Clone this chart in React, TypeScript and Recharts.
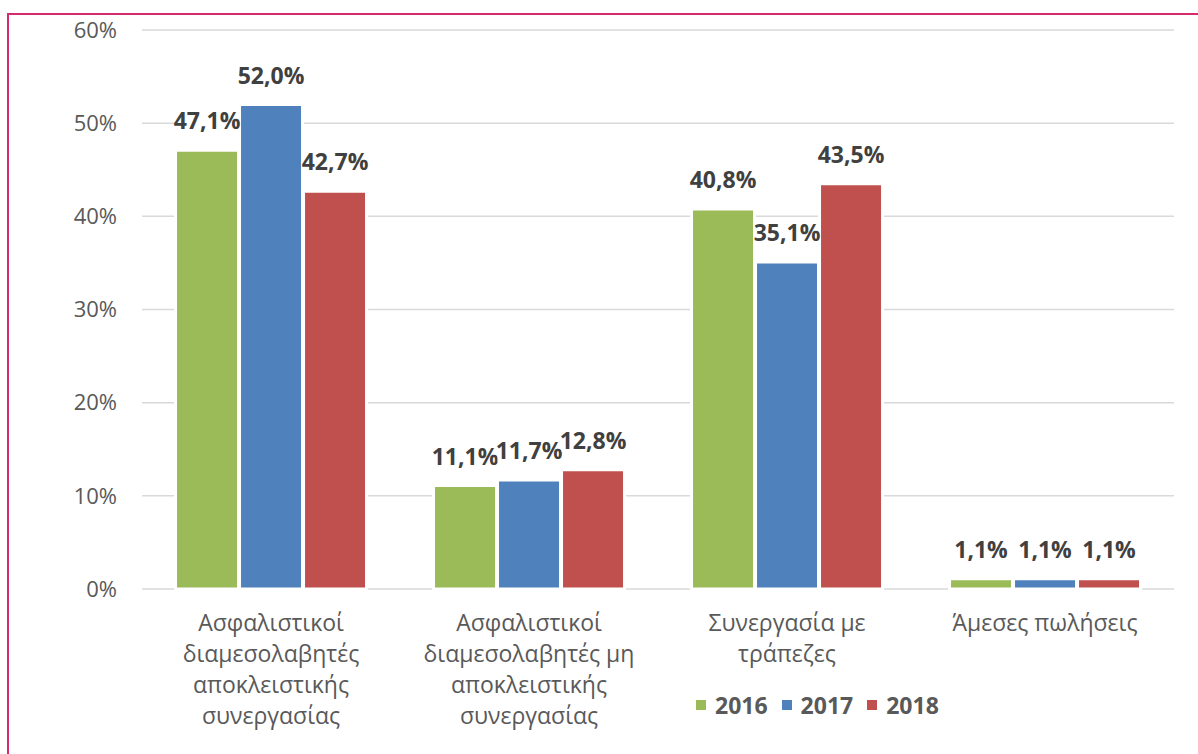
import React from 'react';
import { BarChart, Bar, XAxis, YAxis, CartesianGrid, LabelList, Legend } from 'recharts';

const categoryLines: string[][] = [
  ['Ασφαλιστικοί', 'διαμεσολαβητές', 'αποκλειστικής', 'συνεργασίας'],
  ['Ασφαλιστικοί', 'διαμεσολαβητές μη', 'αποκλειστικής', 'συνεργασίας'],
  ['Συνεργασία με', 'τράπεζες'],
  ['Άμεσες πωλήσεις'],
];
const categories = categoryLines.map((l) => l.join(' '));
const values2016 = [47.1, 11.1, 40.8, 1.1];
const values2017 = [52.0, 11.7, 35.1, 1.1];
const values2018 = [42.7, 12.8, 43.5, 1.1];
const yTicks = [0, 10, 20, 30, 40, 50, 60];
const seriesNames = ['2016', '2017', '2018'];
const seriesColors = ['#9bbb59', '#4f81bd', '#c0504d'];

const data = categories.map((c, i) => ({
  name: c,
  lines: categoryLines[i],
  y2016: values2016[i],
  y2017: values2017[i],
  y2018: values2018[i],
}));

const FONT = "'Open Sans', 'Noto Sans', sans-serif";
const fmt = (v: number) => v.toFixed(1).replace('.', ',') + '%';

const ValueLabel = (props: any) => {
  const { x, y, width, value } = props;
  if (value == null) return null;
  const cx = Number(x) + Number(width) / 2;
  const base = Number(y) - 21;
  const txt = fmt(Number(value));
  const w = txt.length * 12.6;
  return (
    <g>
      <rect x={cx - w / 2} y={base - 17} width={w} height={20} fill="#ffffff" />
      <text x={cx} y={base} textAnchor="middle" fontFamily={FONT} fontWeight={700} fontSize={23} fill="#404040">
        {txt}
      </text>
    </g>
  );
};

const CategoryTick = (props: any) => {
  const { x, y, index } = props;
  const lines: string[] = data[index] ? data[index].lines : [String(props.payload?.value ?? '')];
  return (
    <text x={x} y={y} textAnchor="middle" fontFamily={FONT} fontSize={23} fill="#595959">
      {lines.map((l, i) => (
        <tspan key={i} x={x} y={Number(y) + 42 + i * 31}>
          {l}
        </tspan>
      ))}
    </text>
  );
};

const LegendContent = (props: any) => {
  const payload = props.payload || [];
  return (
    <div style={{ display: 'flex', alignItems: 'center', height: 30, fontFamily: FONT, fontWeight: 700, fontSize: 23, color: '#595959', whiteSpace: 'nowrap' }}>
      {payload.map((p: any, i: number) => (
        <span key={i} style={{ display: 'flex', alignItems: 'center', marginRight: 14 }}>
          <span style={{ display: 'inline-block', width: 10, height: 10, background: p.color, marginRight: 9 }} />
          <span>{p.value}</span>
        </span>
      ))}
    </div>
  );
};

export default function App() {
  return (
    <div style={{ position: 'fixed', left: 0, top: 0, width: 1198, height: 754, overflow: 'hidden', background: '#ffffff' }}>
      <div style={{ position: 'absolute', left: 7, top: 13, width: 1220, height: 800, border: '2px solid #d62a6e', boxSizing: 'border-box' }} />
      <div style={{ position: 'absolute', left: 0, top: 0 }}>
        <BarChart
          width={1198}
          height={754}
          data={data}
          margin={{ top: 30, right: 24, left: 0, bottom: 0 }}
          barGap={1}
          barCategoryGap="13%"
        >
          <CartesianGrid vertical={false} stroke="#d9d9d9" strokeWidth={1.5} xAxisId="cat" yAxisId="v" />
          <XAxis
            xAxisId="ticks"
            type="number"
            domain={[0, 4]}
            ticks={[0, 1, 2, 3, 4]}
            allowDataOverflow
            height={0}
            tick={false}
            tickSize={8}
            axisLine={{ stroke: '#d9d9d9', strokeWidth: 1.5 }}
            tickLine={{ stroke: '#d9d9d9', strokeWidth: 1.5 }}
          />
          <XAxis
            xAxisId="cat"
            dataKey="name"
            height={165}
            axisLine={false}
            tickLine={false}
            tickSize={0}
            tickMargin={0}
            interval={0}
            tick={<CategoryTick />}
          />
          <YAxis
            yAxisId="v"
            width={142}
            domain={[0, 60]}
            ticks={yTicks}
            axisLine={false}
            tickLine={false}
            tickSize={0}
            tickMargin={25}
            tickFormatter={(v: number) => v + '%'}
            tick={{ fill: '#595959', fontSize: 22, fontFamily: FONT }}
          />
          <Legend
            layout="horizontal"
            verticalAlign="middle"
            align="center"
            wrapperStyle={{ left: 696, top: 690, width: 300, height: 30 }}
            content={<LegendContent />}
          />
          {['y2016', 'y2017', 'y2018'].map((k, i) => (
            <Bar
              key={k}
              dataKey={k}
              name={seriesNames[i]}
              fill={seriesColors[i]}
              stroke="#ffffff"
              strokeWidth={3}
              xAxisId="cat"
              yAxisId="v"
              isAnimationActive={false}
            >
              <LabelList dataKey={k} content={<ValueLabel />} />
            </Bar>
          ))}
        </BarChart>
      </div>
    </div>
  );
}
